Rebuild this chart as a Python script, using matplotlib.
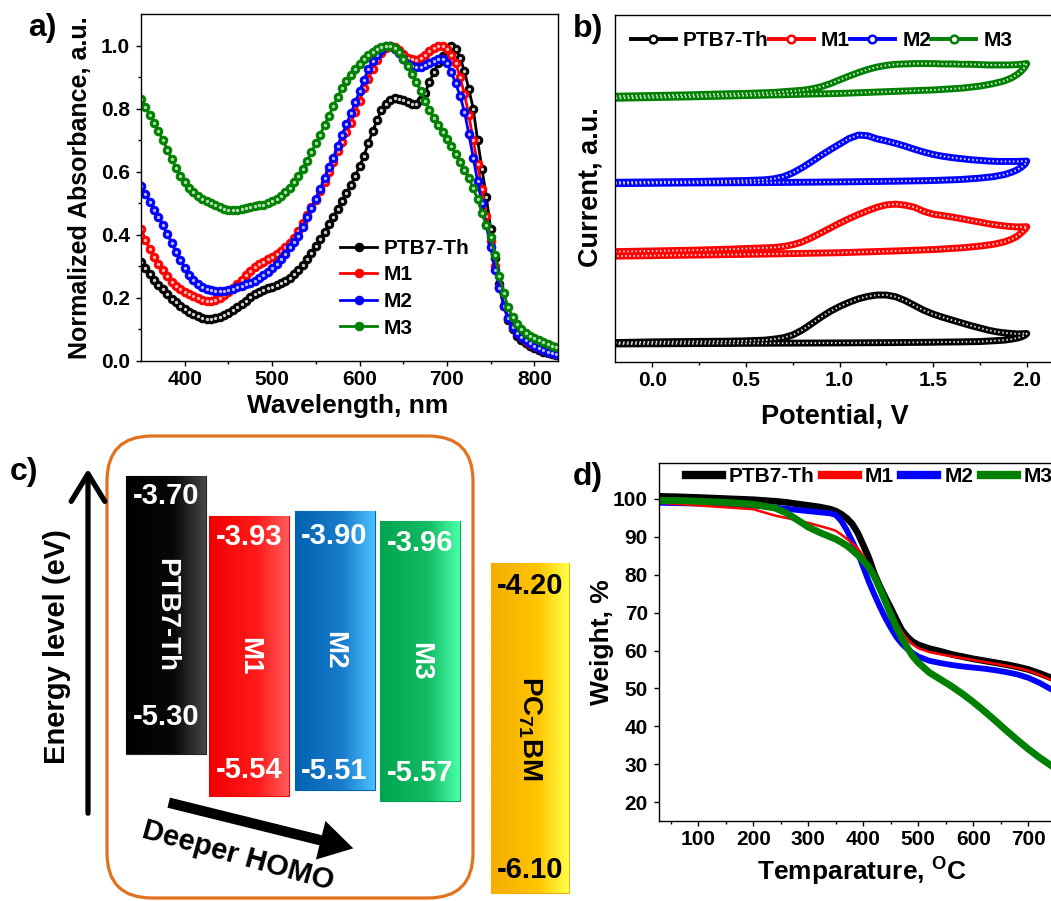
import numpy as np
import matplotlib
matplotlib.use('Agg')
import matplotlib.pyplot as plt
from matplotlib.lines import Line2D
from matplotlib.patches import FancyBboxPatch, FancyArrowPatch
from matplotlib.colors import LinearSegmentedColormap

plt.rcParams['font.family'] = 'Liberation Sans'
plt.rcParams['font.weight'] = 'bold'
plt.rcParams['mathtext.fontset'] = 'custom'
plt.rcParams['mathtext.rm'] = 'Liberation Sans:bold'
plt.rcParams['mathtext.it'] = 'Liberation Sans:bold'
plt.rcParams['mathtext.bf'] = 'Liberation Sans:bold'
plt.rcParams['axes.linewidth'] = 1.0

# ---------------- a) UV-vis absorption ----------------
wl = list(range(350, 830, 5))
abs_ptb7 = [.315, .295, .275, .257, .242, .227, .212, .198, .186, .174,
            .164, .155, .148, .142, .137, .134, .134, .136, .140, .146,
            .153, .161, .170, .180, .191, .202, .211, .219, .225, .230,
            .235, .240, .246, .254, .264, .276, .289, .305, .322, .342,
            .363, .386, .410, .434, .458, .482, .507, .532, .558, .586,
            .617, .650, .690, .728, .763, .795, .815, .828, .833, .832,
            .828, .820, .814, .815, .826, .850, .885, .915, .945, .968,
            .988, 1.000, .988, .962, .918, .862, .800, .700, .610, .520,
            .420, .325, .245, .175, .130, .100, .080, .067, .057, .048,
            .041, .034, .029, .025, .021, .018]
abs_m1 = [.420, .385, .355, .330, .308, .288, .268, .252, .239, .228,
          .219, .212, .205, .199, .194, .190, .190, .193, .199, .208,
          .220, .232, .244, .258, .272, .286, .298, .307, .315, .322,
          .330, .338, .348, .360, .373, .390, .412, .437, .462, .487,
          .510, .538, .568, .600, .630, .665, .695, .725, .755, .790,
          .825, .865, .895, .925, .955, .975, .993, 1.000, .995, .985,
          .972, .962, .956, .955, .960, .970, .982, .993, 1.000, 1.000,
          .990, .970, .944, .900, .845, .780, .700, .625, .545, .460,
          .380, .300, .235, .175, .135, .108, .088, .075, .064, .055,
          .047, .040, .034, .029, .025, .022]
abs_m2 = [.555, .530, .505, .480, .456, .430, .403, .375, .347, .320,
          .295, .272, .256, .245, .236, .229, .225, .222, .222, .223,
          .225, .229, .233, .238, .243, .248, .254, .262, .272, .283,
          .295, .308, .322, .340, .360, .378, .397, .425, .455, .485,
          .515, .545, .580, .615, .645, .680, .715, .750, .785, .820,
          .855, .890, .925, .950, .970, .985, .997, 1.000, .990, .975,
          .958, .943, .935, .932, .933, .937, .945, .952, .957, .958,
          .945, .915, .880, .840, .790, .720, .645, .570, .500, .430,
          .360, .290, .230, .175, .135, .108, .089, .076, .065, .056,
          .048, .041, .035, .030, .026, .023]
abs_m3 = [.830, .805, .780, .755, .728, .700, .670, .640, .612, .587,
          .566, .549, .535, .523, .515, .508, .500, .493, .487, .482,
          .478, .478, .479, .481, .484, .487, .490, .493, .496, .500,
          .506, .514, .523, .535, .550, .567, .587, .610, .635, .662,
          .690, .718, .748, .778, .808, .838, .865, .888, .908, .925,
          .942, .957, .970, .981, .990, .996, 1.000, 1.000, .993, .978,
          .958, .935, .910, .885, .855, .825, .795, .770, .748, .725,
          .703, .680, .657, .632, .607, .580, .548, .512, .470, .430,
          .392, .335, .268, .215, .170, .140, .118, .102, .090, .080,
          .072, .065, .059, .054, .049, .045]

# ---------------- b) cyclic voltammetry ----------------
cv_fwd_v = [-0.2, 0.0, 0.2, 0.4, 0.5, 0.6, 0.65, 0.7, 0.75, 0.8, 0.85, 0.9,
            0.95, 1.0, 1.05, 1.1, 1.15, 1.2, 1.25, 1.3, 1.35, 1.4, 1.45, 1.5,
            1.55, 1.6, 1.65, 1.7, 1.75, 1.8, 1.85, 1.9, 1.95, 2.0]
cv_rev_v = [2.0, 1.99, 1.97, 1.95, 1.92, 1.88, 1.82, 1.75, 1.65, 1.5, 1.3,
            1.0, 0.6, 0.2, -0.2]
cv_ptb7_fwd = [5.6, 5.8, 5.9, 6.0, 6.1, 6.3, 6.6, 7.0, 7.8, 9.2, 11.0, 12.9,
               14.6, 16.0, 17.2, 18.2, 18.9, 19.3, 19.3, 18.8, 17.7, 16.3, 14.9, 13.8,
               12.9, 12.1, 11.3, 10.5, 9.8, 9.1, 8.6, 8.3, 8.1, 8.2]
cv_ptb7_rev = [8.2, 7.7, 7.2, 6.9, 6.6, 6.3, 6.1, 5.9, 5.8, 5.7, 5.6, 5.5, 5.4, 5.3, 5.2]
cv_m1_fwd = [31.8, 32.0, 32.2, 32.5, 32.7, 32.9, 33.0, 33.3, 33.8, 34.6, 35.8, 37.2,
             38.6, 40.0, 41.3, 42.5, 43.6, 44.6, 45.3, 45.5, 45.2, 44.6, 43.4, 42.6,
             42.2, 41.8, 41.3, 40.8, 40.3, 39.8, 39.4, 39.1, 38.9, 39.0]
cv_m1_rev = [39.0, 38.2, 37.2, 36.3, 35.4, 34.6, 33.9, 33.4, 32.9, 32.4, 32.0, 31.5, 31.1, 30.8, 30.5]
cv_m2_fwd = [51.8, 51.9, 52.0, 52.2, 52.3, 52.5, 52.8, 53.4, 54.5, 56.0, 57.7, 59.5,
             61.2, 62.8, 64.4, 65.4, 65.2, 64.3, 63.7, 63.0, 62.2, 61.3, 60.5, 59.8,
             59.3, 58.9, 58.6, 58.3, 58.1, 57.9, 57.8, 57.8, 57.8, 57.9]
cv_m2_rev = [57.9, 57.0, 56.1, 55.4, 54.7, 54.0, 53.4, 53.0, 52.6, 52.3, 52.1, 51.9, 51.7, 51.6, 51.4]
cv_m3_fwd = [76.6, 76.8, 77.0, 77.3, 77.4, 77.6, 77.7, 77.9, 78.1, 78.3, 78.7, 79.3,
             80.2, 81.3, 82.4, 83.4, 84.3, 85.0, 85.5, 85.8, 85.9, 86.0, 86.0, 86.0,
             85.9, 85.9, 85.8, 85.8, 85.7, 85.6, 85.6, 85.6, 85.7, 86.0]
cv_m3_rev = [86.0, 85.0, 83.8, 82.9, 81.9, 81.0, 80.2, 79.5, 78.9, 78.4, 78.0, 77.4, 76.9, 76.4, 76.0]

# ---------------- c) energy levels ----------------
mat_names = ['PTB7-Th', 'M1', 'M2', 'M3', 'PC$_{71}$BM']
lumo = [-3.70, -3.93, -3.90, -3.96, -4.20]
homo = [-5.30, -5.54, -5.51, -5.57, -6.10]

# ---------------- d) TGA ----------------
tga_t = [30, 60, 100, 150, 200, 240, 260, 280, 300, 320, 340, 350, 360, 370,
         380, 390, 400, 410, 420, 430, 440, 450, 460, 470, 480, 490, 500, 520,
         540, 560, 580, 600, 620, 640, 660, 680, 700, 720, 745]
tga_ptb7 = [100.7, 100.6, 100.4, 100.1, 99.8, 99.4, 99.1, 98.7, 98.3, 97.9, 97.3, 96.8, 96.0, 94.9,
            93.4, 91.0, 87.8, 84.5, 80.3, 77.0, 74.0, 71.2, 68.2, 65.4, 63.6, 62.3, 61.5, 60.5,
            59.8, 59.0, 58.4, 57.8, 57.3, 56.8, 56.3, 55.7, 55.0, 54.0, 52.6]
tga_m1 = [99.0, 98.7, 98.3, 97.8, 97.3, 95.6, 95.0, 94.4, 93.7, 92.9, 92.1, 91.6, 90.6, 89.5,
          88.3, 86.9, 85.0, 82.5, 79.5, 76.5, 73.5, 70.5, 67.6, 65.0, 63.0, 61.6, 60.6, 59.6,
          59.0, 58.5, 58.0, 57.5, 57.0, 56.5, 56.0, 55.4, 54.7, 53.6, 52.0]
tga_m2 = [99.0, 98.9, 98.8, 98.6, 98.3, 97.7, 97.4, 97.1, 96.8, 96.5, 96.2, 95.8, 94.2, 91.8,
          88.8, 85.8, 82.0, 78.2, 74.8, 71.6, 68.6, 66.0, 63.6, 61.8, 60.4, 59.3, 58.4, 57.3,
          56.7, 56.2, 55.8, 55.5, 55.2, 54.8, 54.3, 53.7, 52.8, 51.5, 49.5]
tga_m3 = [99.6, 99.6, 99.4, 99.1, 98.6, 97.6, 96.3, 94.5, 92.6, 91.2, 90.0, 89.4, 88.6, 87.7,
          86.5, 85.2, 83.7, 82.0, 79.6, 76.4, 73.0, 69.5, 66.2, 63.3, 60.8, 58.5, 56.8, 54.2,
          52.4, 50.6, 48.6, 46.4, 44.0, 41.5, 38.9, 36.4, 34.0, 31.8, 29.3]

colors = ['#000000', '#ff0000', '#0000ff', '#008000']
shine = ['#d0d0d0', '#ffb8b8', '#b8b8ff', '#b0dcb0']
labels = ['PTB7-Th', 'M1', 'M2', 'M3']

W, H = 1051, 901
fig = plt.figure(figsize=(W / 100, H / 100), dpi=100)


def box(x0, y0, x1, y1):
    # pixel rectangle (origin top-left) -> figure fraction
    return [x0 / W, 1 - y1 / H, (x1 - x0) / W, (y1 - y0) / H]


def ptext(x, y, s, **kw):
    kw.setdefault('ha', 'center')
    kw.setdefault('va', 'center')
    fig.text(x / W, 1 - y / H, s, **kw)


def style_ticks(ax):
    ax.tick_params(which='major', direction='out', length=3.5, width=1.0,
                   labelsize=15, pad=3, top=False, right=False)
    ax.tick_params(which='minor', direction='out', length=2.0, width=1.0,
                   top=False, right=False)
    ax.tick_params(axis='y', which='major', pad=4.5)


# ---- a)
ax_a = fig.add_axes(box(141, 14, 558, 361))
for ys, c, s, lab in zip([abs_ptb7, abs_m1, abs_m2, abs_m3], colors, shine, labels):
    ax_a.plot(wl, ys, color=c, lw=2.0, marker='o', ms=6.4, mfc=c, mec=c, mew=0.5, label=lab)
    ax_a.plot(wl, ys, ls='none', marker='o', ms=2.4, mfc=s, mec='none')
ax_a.set_xlim(350, 827)
ax_a.set_ylim(0, 1.1)
ax_a.set_xticks([400, 500, 600, 700, 800])
ax_a.set_xticks([450, 550, 650, 750], minor=True)
ax_a.set_yticks([0, 0.2, 0.4, 0.6, 0.8, 1.0])
ax_a.set_yticks([0.1, 0.3, 0.5, 0.7, 0.9], minor=True)
ax_a.yaxis.set_major_formatter('{x:.1f}')
style_ticks(ax_a)
ax_a.legend(loc='upper left', bbox_to_anchor=((340 - 141) / 417, (361 - 239) / 347),
            frameon=False, fontsize=15, handlelength=1.78, handletextpad=0.3,
            labelspacing=0.36, borderpad=0, borderaxespad=0)
ptext(80, 188, 'Normalized Absorbance, a.u.', rotation=90, fontsize=18)
ptext(348, 406, 'Wavelength, nm', fontsize=19)
ptext(42, 28, 'a)', fontsize=23)

# ---- b)
ax_b = fig.add_axes(box(615, 15, 1053, 362))
cv_sets = [(cv_ptb7_fwd, cv_ptb7_rev), (cv_m1_fwd, cv_m1_rev),
           (cv_m2_fwd, cv_m2_rev), (cv_m3_fwd, cv_m3_rev)]
for (fwd, rev), c in zip(cv_sets, colors):
    v = cv_fwd_v + cv_rev_v
    i = fwd + rev
    ax_b.plot(v, i, color=c, lw=5.0, solid_joinstyle='round', solid_capstyle='round')
    ax_b.plot(v, i, color='white', lw=1.4, ls=(0, (0.8, 1.3)), alpha=0.85)
ax_b.set_xlim(-0.2, 2.14)
ax_b.set_ylim(0, 100)
ax_b.set_xticks([0, 0.5, 1.0, 1.5, 2.0])
ax_b.set_xticks([0.25, 0.75, 1.25, 1.75], minor=True)
ax_b.xaxis.set_major_formatter('{x:.1f}')
ax_b.set_yticks([])
style_ticks(ax_b)
proxies = [Line2D([], [], color=c, lw=2.8, marker='o', ms=5.5, mfc='white', mec=c, mew=1.8)
           for c in colors]
ax_b.legend(proxies, labels, loc='upper left', ncol=4,
            bbox_to_anchor=((631 - 615) / 438, (362 - 31) / 347),
            frameon=False, fontsize=15, handlelength=2.15, handletextpad=0.35,
            columnspacing=0.0, borderpad=0, borderaxespad=0)
ptext(590, 187, 'Current, a.u.', rotation=90, fontsize=19.5)
ptext(835, 417, 'Potential, V', fontsize=19.5)
ptext(588, 29, 'b)', fontsize=23)

# ---- c)
ax_o = fig.add_axes(box(0, 430, 580, 901), zorder=1)
ax_o.set_xlim(0, 580)
ax_o.set_ylim(901, 430)
ax_o.axis('off')
ax_c = fig.add_axes(box(0, 430, 580, 901), zorder=2)
ax_c.axis('off')

ax_o.add_patch(FancyBboxPatch((107, 436), 366, 462, boxstyle='round,pad=0,rounding_size=45',
                              fc='none', ec='#e2711d', lw=2.3))
ax_o.add_patch(FancyArrowPatch((88, 816), (88, 466), arrowstyle='->,head_length=0.9,head_width=0.55',
                               mutation_scale=22, lw=3.8, color='black'))
ax_o.add_patch(FancyArrowPatch((166, 802), (356, 849),
                               arrowstyle='simple,head_length=1.1,head_width=1.3,tail_width=0.34',
                               mutation_scale=22, lw=0, color='black'))
ptext(57, 647, 'Energy level (eV)', rotation=90, fontsize=21)
ptext(238, 856, 'Deeper HOMO', rotation=-15.5, fontsize=21)
ptext(433, 828, '6.0', fontsize=20, color='white')
ptext(24, 472, 'c)', fontsize=23)

bar_x = [166, 249, 334.5, 420, 530]
bar_w = [80, 80, 80, 80, 78]
bar_cols = [['#000000', '#080808', '#454545'],
            ['#f00000', '#ff1a1a', '#ff5a5a'],
            ['#0062b0', '#1a7dcc', '#48c0ff'],
            ['#00a54f', '#14ba64', '#48ffa8'],
            ['#f3ae00', '#ffc400', '#ffff48']]
txt_cols = ['white', 'white', 'white', 'white', 'black']
top_off = [20, 21, 25, 22, 23]
bot_off = [37, 26, 19, 28, 23]
grad = np.linspace(0, 1, 64)[None, :]
for k in range(5):
    b = ax_c.bar(bar_x[k], lumo[k] - homo[k], bottom=homo[k], width=bar_w[k],
                 color=bar_cols[k][1], ec='#222222' if k == 0 else bar_cols[k][0], lw=0.8)[0]
    cm = LinearSegmentedColormap.from_list(
        'g%d' % k, [(0, bar_cols[k][0]), (0.6, bar_cols[k][1]), (1, bar_cols[k][2])])
    x0 = bar_x[k] - bar_w[k] / 2
    im = ax_c.imshow(grad, cmap=cm, aspect='auto', extent=(x0, x0 + bar_w[k], homo[k], lumo[k]),
                     interpolation='bilinear', zorder=2)
    im.set_clip_path(b)
    ax_c.annotate('%.2f' % lumo[k], (bar_x[k], lumo[k]), xytext=(0, -top_off[k] * 0.72),
                  textcoords='offset points', ha='center', va='center', fontsize=21,
                  color=txt_cols[k], zorder=3)
    ax_c.annotate('%.2f' % homo[k], (bar_x[k], homo[k]), xytext=(0, bot_off[k] * 0.72),
                  textcoords='offset points', ha='center', va='center', fontsize=21,
                  color=txt_cols[k], zorder=3)
    ax_c.text(bar_x[k], (lumo[k] + homo[k]) / 2, mat_names[k], rotation=-90,
              ha='center', va='center', fontsize=20, color=txt_cols[k], zorder=3)
ax_c.set_xlim(0, 580)
ax_c.set_ylim(-6.146, -3.436)

# ---- d)
ax_d = fig.add_axes(box(659, 463, 1053, 821))
tga_sets = [tga_ptb7, tga_m2, tga_m1, tga_m3]
tga_cols = ['#000000', '#0000ff', '#ff0000', '#008000']
tga_lw = [4.8, 4.2, 1.8, 5.0]
for ys, c, lw in zip(tga_sets, tga_cols, tga_lw):
    ax_d.plot(tga_t, ys, color=c, lw=lw, solid_joinstyle='round')
ax_d.set_xlim(28.5, 745)
ax_d.set_ylim(15, 109.5)
ax_d.set_xticks([100, 200, 300, 400, 500, 600, 700])
ax_d.set_xticks([50, 150, 250, 350, 450, 550, 650], minor=True)
ax_d.set_yticks([20, 30, 40, 50, 60, 70, 80, 90, 100])
style_ticks(ax_d)
d_proxies = [Line2D([], [], color=c, lw=6) for c in colors]
ax_d.legend(d_proxies, labels, loc='upper left', ncol=4,
            bbox_to_anchor=((686 - 659) / 394, (821 - 467) / 358),
            frameon=False, fontsize=15, handlelength=1.73, handletextpad=0.34,
            columnspacing=0.34, borderpad=0, borderaxespad=0)
ptext(602, 642, 'Weight, %', rotation=90, fontsize=19)
ptext(862, 872, 'Temparature, $^{O}$C', fontsize=19)
ptext(588, 477, 'd)', fontsize=23)

fig.savefig('out.png', dpi=100)
